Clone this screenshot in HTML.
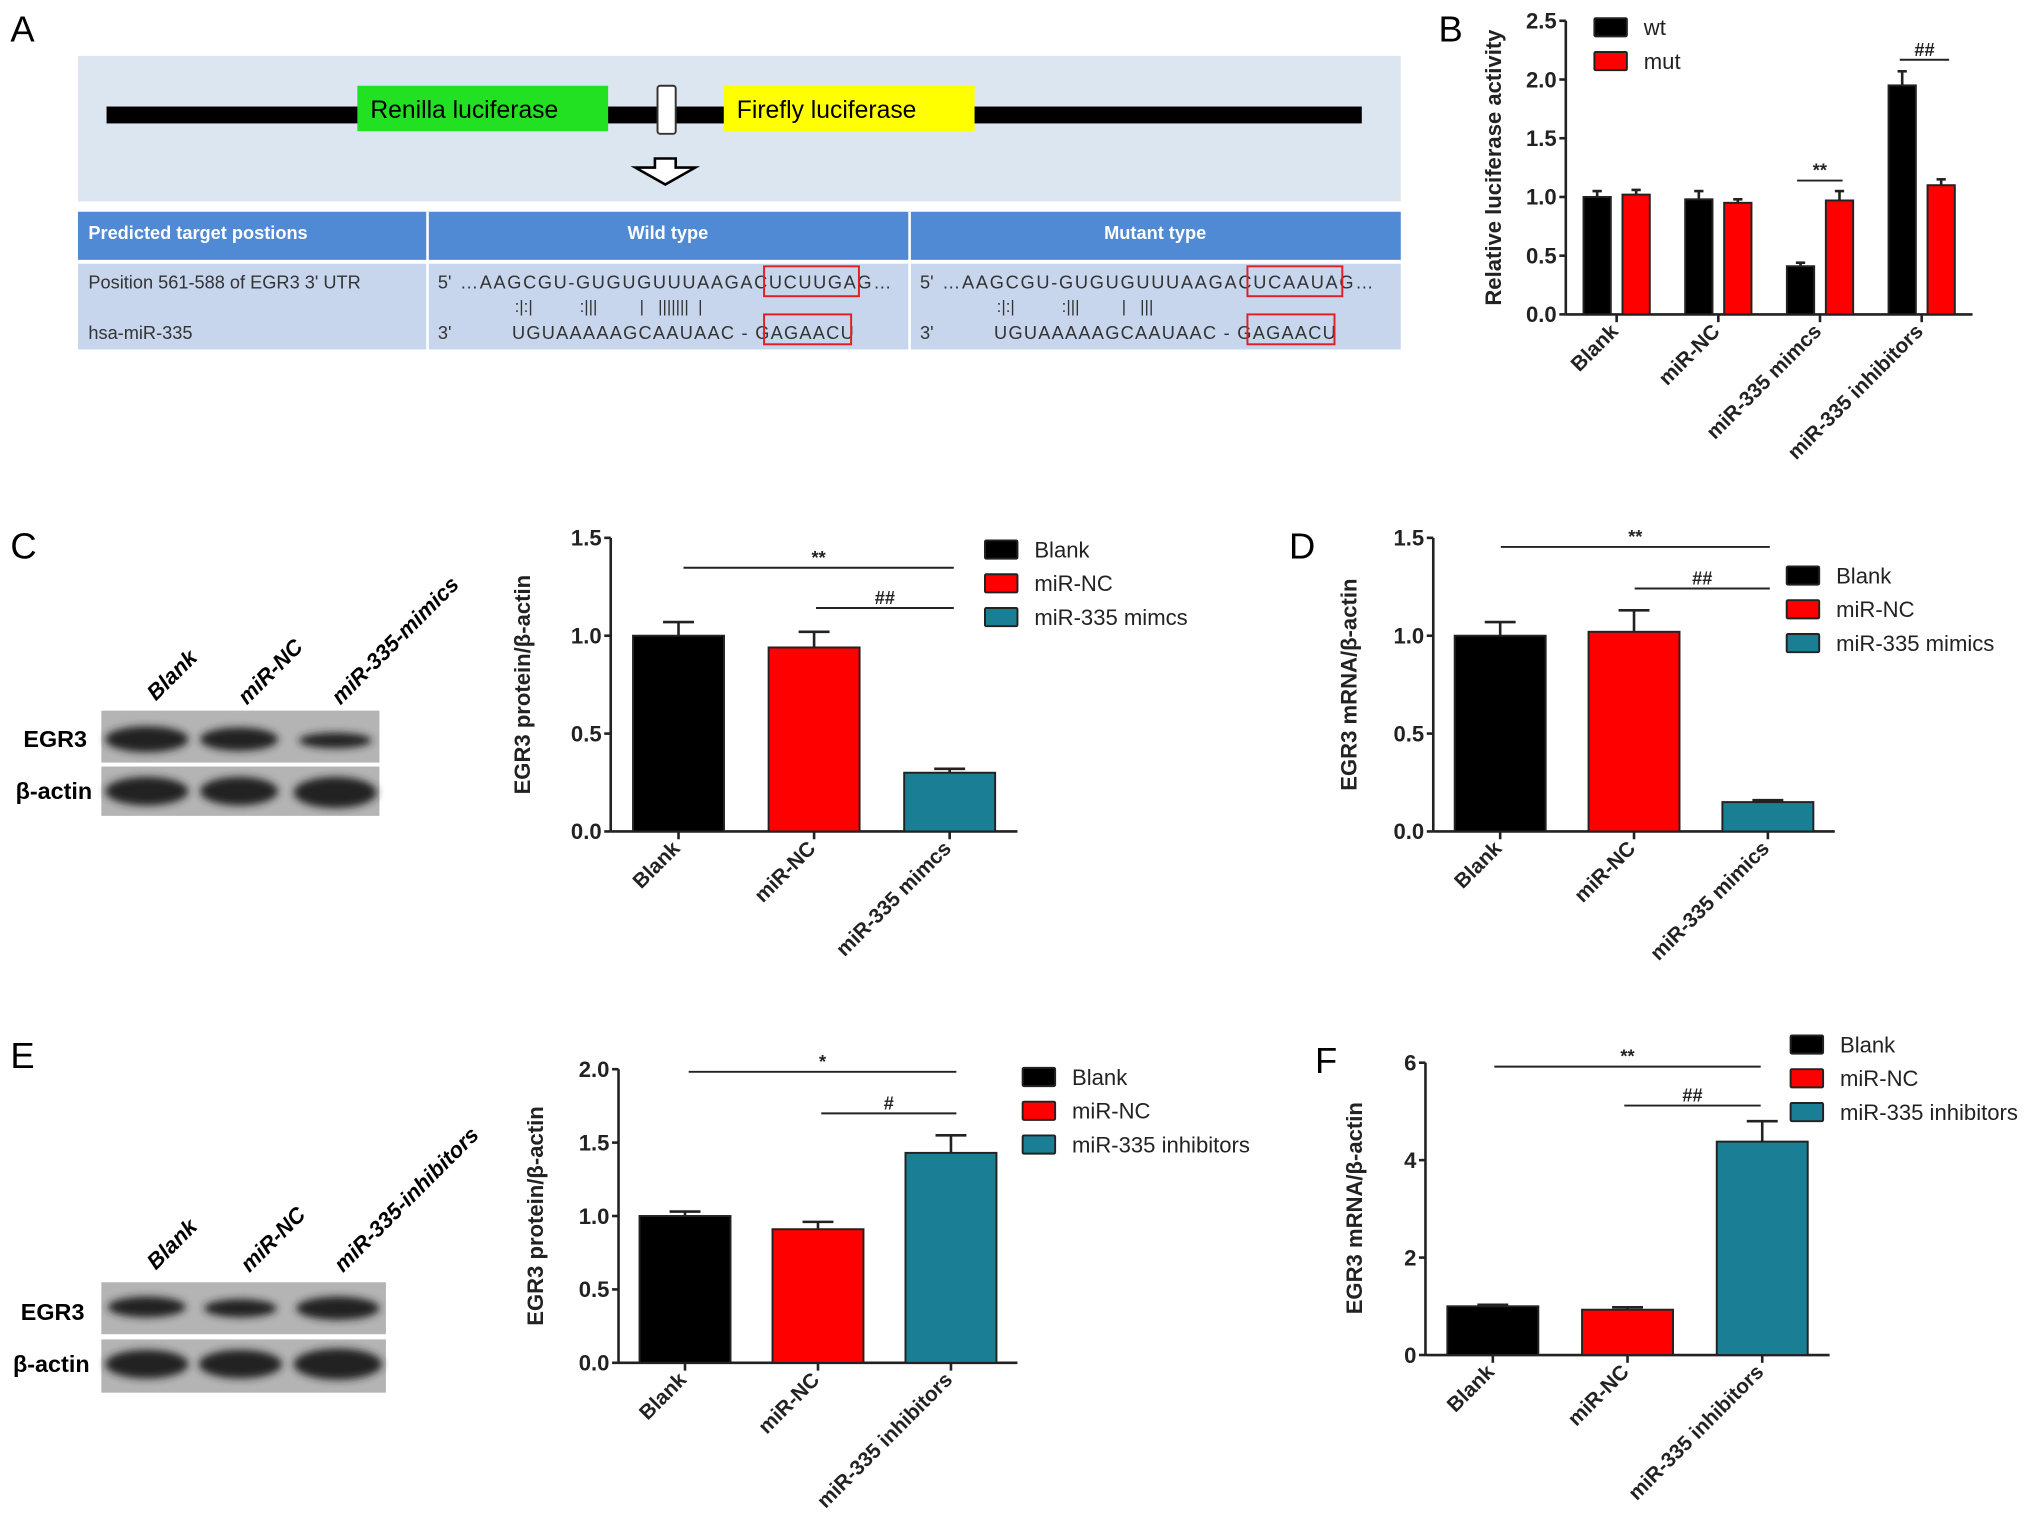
<!DOCTYPE html>
<html><head><meta charset="utf-8"><style>
html,body{margin:0;padding:0;background:#fff;}
svg{display:block;font-family:"Liberation Sans",Arial,sans-serif;}
.pre{white-space:pre;}
</style></head><body>
<svg id="fig" width="2031" height="1533" viewBox="0 0 1563 1180" preserveAspectRatio="none" xmlns="http://www.w3.org/2000/svg">
<g>
<text x="8" y="32" font-size="28">A</text>
<rect x="60" y="43" width="1018" height="112" fill="#dce6f1"/>
<rect x="82" y="82" width="966" height="13" fill="#000"/>
<rect x="275" y="66" width="193" height="35" fill="#22e022"/>
<text x="285" y="91" font-size="19">Renilla luciferase</text>
<rect x="557" y="66" width="193" height="35" fill="#ffff00"/>
<text x="567" y="91" font-size="19">Firefly luciferase</text>
<rect x="506" y="66" width="14" height="37" fill="#fff" stroke="#333" stroke-width="1.5" rx="2"/>
<path d="M504,122 L520,122 L520,129 L535,129 L512,142 L489,129 L504,129 Z" fill="#fff" stroke="#000" stroke-width="2"/>
<rect x="60" y="163" width="1018" height="37" fill="#5089d4"/>
<rect x="60" y="203" width="1018" height="66" fill="#c7d6ec"/>
<line x1="329" y1="163" x2="329" y2="269" stroke="#fff" stroke-width="2"/>
<line x1="700" y1="163" x2="700" y2="269" stroke="#fff" stroke-width="2"/>
<text x="68" y="184" font-size="14" font-weight="bold" fill="#fff">Predicted target postions</text>
<text x="514" y="184" font-size="14" font-weight="bold" fill="#fff" text-anchor="middle">Wild type</text>
<text x="889" y="184" font-size="14" font-weight="bold" fill="#fff" text-anchor="middle">Mutant type</text>
<g font-size="14" fill="#333">
<text x="68" y="222">Position 561-588 of EGR3 3' UTR</text>
<text x="68" y="261">hsa-miR-335</text>
<text x="337" y="222">5'</text>
<text x="354" y="222" textLength="332">…AAGCGU-GUGUGUUUAAGACUCUUGAG…</text>
<text x="337" y="261">3'</text>
<text x="394" y="261" textLength="263">UGUAAAAAGCAAUAAC - GAGAACU</text>
<text x="396" y="240" font-size="13" class="pre">:|:|          :|||         |   |||||||  |</text>
<text x="708" y="222">5'</text>
<text x="725" y="222" textLength="332">…AAGCGU-GUGUGUUUAAGACUCAAUAG…</text>
<text x="708" y="261">3'</text>
<text x="765" y="261" textLength="263">UGUAAAAAGCAAUAAC - GAGAACU</text>
<text x="767" y="240" font-size="13" class="pre">:|:|          :|||         |   |||</text>
</g>
<rect x="588" y="205" width="73" height="23" fill="none" stroke="#e02020" stroke-width="1.5"/>
<rect x="588" y="242" width="67" height="23" fill="none" stroke="#e02020" stroke-width="1.5"/>
<rect x="960" y="205" width="73" height="23" fill="none" stroke="#e02020" stroke-width="1.5"/>
<rect x="960" y="242" width="67" height="23" fill="none" stroke="#e02020" stroke-width="1.5"/>
</g>
<text x="1107" y="32" font-size="28">B</text>
<text x="8" y="430" font-size="28">C</text>
<text x="992" y="430" font-size="28">D</text>
<text x="8" y="822" font-size="28">E</text>
<text x="1012" y="826" font-size="28">F</text>
<defs>
<filter id="blur"><feGaussianBlur stdDeviation="3"/></filter>
</defs>
<g>
<rect x="78" y="547" width="214" height="40" fill="#b4b4b4"/>
<rect x="78" y="590" width="214" height="38" fill="#b4b4b4"/>
<g filter="url(#blur)" fill="#222">
<ellipse cx="113" cy="569" rx="32" ry="10"/><ellipse cx="184" cy="569" rx="30" ry="9"/><ellipse cx="258" cy="570" rx="28" ry="6"/>
<ellipse cx="113" cy="609" rx="32" ry="11"/><ellipse cx="184" cy="609" rx="30" ry="11"/><ellipse cx="258" cy="610" rx="32" ry="12"/>
</g>
<text x="18" y="575" font-size="18" font-weight="bold">EGR3</text>
<text x="12" y="615" font-size="18" font-weight="bold">β-actin</text>
<text transform="translate(120,540) rotate(-45)" font-size="17" font-weight="bold" font-style="italic">Blank</text>
<text transform="translate(190,543) rotate(-45)" font-size="17" font-weight="bold" font-style="italic">miR-NC</text>
<text transform="translate(262,543) rotate(-45)" font-size="17" font-weight="bold" font-style="italic">miR-335-mimics</text>
</g>
<g>
<rect x="78" y="987" width="219" height="40" fill="#b4b4b4"/>
<rect x="78" y="1031" width="219" height="41" fill="#b4b4b4"/>
<g filter="url(#blur)" fill="#222">
<ellipse cx="113" cy="1006" rx="30" ry="8"/><ellipse cx="185" cy="1007" rx="28" ry="7"/><ellipse cx="260" cy="1007" rx="32" ry="9"/>
<ellipse cx="113" cy="1050" rx="32" ry="11"/><ellipse cx="185" cy="1050" rx="32" ry="11"/><ellipse cx="260" cy="1050" rx="34" ry="12"/>
</g>
<text x="16" y="1016" font-size="18" font-weight="bold">EGR3</text>
<text x="10" y="1056" font-size="18" font-weight="bold">β-actin</text>
<text transform="translate(120,978) rotate(-45)" font-size="17" font-weight="bold" font-style="italic">Blank</text>
<text transform="translate(192,980) rotate(-45)" font-size="17" font-weight="bold" font-style="italic">miR-NC</text>
<text transform="translate(264,980) rotate(-45)" font-size="17" font-weight="bold" font-style="italic">miR-335-inhibitors</text>
</g>
<g id="charts"></g>
</svg>
<script>
// Panel B data
const bCats = ["Blank", "miR-NC", "miR-335 mimcs", "miR-335 inhibitors"];
const bWt = [1.0, 0.98, 0.41, 1.95];
const bWtErr = [0.05, 0.07, 0.03, 0.12];
const bMut = [1.02, 0.95, 0.97, 1.10];
const bMutErr = [0.04, 0.03, 0.08, 0.05];
const bTicks = ["0.0", "0.5", "1.0", "1.5", "2.0", "2.5"];
// Panel C data
const cCats = ["Blank", "miR-NC", "miR-335 mimcs"];
const cVals = [1.0, 0.94, 0.30];
const cErr = [0.07, 0.08, 0.02];
const cTicks = ["0.0", "0.5", "1.0", "1.5"];
// Panel D data
const dCats = ["Blank", "miR-NC", "miR-335 mimics"];
const dVals = [1.0, 1.02, 0.15];
const dErr = [0.07, 0.11, 0.01];
const dTicks = ["0.0", "0.5", "1.0", "1.5"];
// Panel E data
const eCats = ["Blank", "miR-NC", "miR-335 inhibitors"];
const eVals = [1.0, 0.91, 1.43];
const eErr = [0.03, 0.05, 0.12];
const eTicks = ["0.0", "0.5", "1.0", "1.5", "2.0"];
// Panel F data
const fCats = ["Blank", "miR-NC", "miR-335 inhibitors"];
const fVals = [1.0, 0.93, 4.38];
const fErr = [0.03, 0.05, 0.42];
const fTicks = ["0", "2", "4", "6"];

const NS = "http://www.w3.org/2000/svg";
const root = document.getElementById('charts');
function mk(tag, attrs, parent, text) {
  const e = document.createElementNS(NS, tag);
  for (const k in attrs) e.setAttribute(k, attrs[k]);
  if (text !== undefined) e.textContent = text;
  (parent || root).appendChild(e);
  return e;
}
const COLORS = ["#000000", "#ff0000", "#1a7f94"];

function chart(cfg) {
  const g = mk('g', {});
  
  
  const y = v => cfg.y0 - (v / cfg.max) * (cfg.y0 - cfg.yTop);
  const ya = mk('line', {x1: cfg.ax, y1: cfg.yTop, x2: cfg.ax, y2: cfg.y0, stroke: '#222', 'stroke-width': 2}, g);
  
  
  const xa = mk('line', {x1: cfg.ax, y1: cfg.y0, x2: cfg.axEnd, y2: cfg.y0, stroke: '#222', 'stroke-width': 2}, g);
  
  
  cfg.ticks.forEach(t => {
    const v = parseFloat(t), yy = y(v);
    mk('line', {x1: cfg.ax - 5, y1: yy, x2: cfg.ax, y2: yy, stroke: '#222', 'stroke-width': 2}, g);
    const tl = mk('text', {x: cfg.ax - 7, y: yy + 6, 'font-size': 17, 'font-weight': 'bold', 'text-anchor': 'end', fill: '#222'}, g, t);
    
    
  });
  const yl = mk('text', {transform: `translate(${cfg.ylx},${cfg.yly}) rotate(-90)`, 'font-size': 17, 'font-weight': 'bold', 'text-anchor': 'middle', fill: '#222'}, g, cfg.ylabel);
  
  
  const n = cfg.cats.length;
  const slot = (cfg.axEnd - cfg.ax) / n;
  cfg.cats.forEach((c, i) => {
    const cx = cfg.ax + slot * (i + 0.5);
    mk('line', {x1: cx, y1: cfg.y0, x2: cx, y2: cfg.y0 + 6, stroke: '#222', 'stroke-width': 2}, g);
    const xl = mk('text', {transform: `translate(${cx + 2},${cfg.y0 + 14}) rotate(-45)`, 'font-size': 16, 'font-weight': 'bold', 'text-anchor': 'end', fill: '#222'}, g, c);
    
    
    cfg.series.forEach((s, j) => {
      const ns = cfg.series.length;
      let bx;
      if (ns === 1) bx = cx - cfg.bw / 2;
      else bx = cx - cfg.bw - cfg.gap / 2 + j * (cfg.bw + cfg.gap);
      const col = ns === 1 ? COLORS[i] : COLORS[j];
      const v = s.vals[i], e = s.err[i];
      const eb = mk('line', {x1: bx + cfg.bw / 2, y1: y(v), x2: bx + cfg.bw / 2, y2: y(v + e), stroke: '#222', 'stroke-width': 2}, g);
      
      
      mk('line', {x1: bx + cfg.bw / 2 - cfg.bw * 0.17, y1: y(v + e), x2: bx + cfg.bw / 2 + cfg.bw * 0.17, y2: y(v + e), stroke: '#222', 'stroke-width': 2}, g);
      const r = mk('rect', {x: bx, y: y(v), width: cfg.bw, height: cfg.y0 - y(v), fill: col, stroke: '#222', 'stroke-width': 1.5}, g);
      
      
    });
  });
  cfg.sig.forEach(s => {
    mk('line', {x1: s[0], y1: s[2], x2: s[1], y2: s[2], stroke: '#222', 'stroke-width': 1.5}, g);
    const st = mk('text', {x: (s[0] + s[1]) / 2, y: s[2] - 3, 'font-size': 14, 'font-weight': 'bold', 'text-anchor': 'middle', fill: '#222'}, g, s[3]);
    
    
  });
  cfg.legend.forEach((l, i) => {
    const ly = cfg.ly + i * cfg.lstep;
    const lr = mk('rect', {x: cfg.lx, y: ly, width: 25, height: 14, fill: COLORS[i], stroke: '#222', 'stroke-width': 1.5, rx: 1}, g);
    
    
    const lt = mk('text', {x: cfg.lx + 38, y: ly + 13, 'font-size': 17, fill: '#222'}, g, l);
    
    
  });
}

chart({name: 'chart-b', ax: 1205, axEnd: 1518, y0: 242, yTop: 16, max: 2.5, ticks: bTicks, cats: bCats, bw: 21, gap: 9,
  series: [{key: 'wt', vals: bWt, err: bWtErr}, {key: 'mut', vals: bMut, err: bMutErr}],
  ylabel: 'Relative luciferase activity', ylx: 1155, yly: 129,
  sig: [[1383, 1418, 139, '**'], [1462, 1500, 46, '##']],
  legend: ['wt', 'mut'], lx: 1227, ly: 14, lstep: 26});
chart({name: 'chart-c', ax: 470, axEnd: 783, y0: 640, yTop: 414, max: 1.5, ticks: cTicks, cats: cCats, bw: 70, gap: 0,
  series: [{key: 's', vals: cVals, err: cErr}],
  ylabel: 'EGR3 protein/β-actin', ylx: 408, yly: 527,
  sig: [[526, 734, 437, '**'], [628, 734, 468, '##']],
  legend: ['Blank', 'miR-NC', 'miR-335 mimcs'], lx: 758, ly: 416, lstep: 26});
chart({name: 'chart-d', ax: 1103, axEnd: 1412, y0: 640, yTop: 414, max: 1.5, ticks: dTicks, cats: dCats, bw: 70, gap: 0,
  series: [{key: 's', vals: dVals, err: dErr}],
  ylabel: 'EGR3 mRNA/β-actin', ylx: 1044, yly: 527,
  sig: [[1155, 1362, 421, '**'], [1258, 1362, 453, '##']],
  legend: ['Blank', 'miR-NC', 'miR-335 mimics'], lx: 1375, ly: 436, lstep: 26});
chart({name: 'chart-e', ax: 476, axEnd: 783, y0: 1049, yTop: 823, max: 2.0, ticks: eTicks, cats: eCats, bw: 70, gap: 0,
  series: [{key: 's', vals: eVals, err: eErr}],
  ylabel: 'EGR3 protein/β-actin', ylx: 418, yly: 936,
  sig: [[530, 736, 825, '*'], [632, 736, 857, '#']],
  legend: ['Blank', 'miR-NC', 'miR-335 inhibitors'], lx: 787, ly: 822, lstep: 26});
chart({name: 'chart-f', ax: 1097, axEnd: 1408, y0: 1043, yTop: 818, max: 6, ticks: fTicks, cats: fCats, bw: 70, gap: 0,
  series: [{key: 's', vals: fVals, err: fErr}],
  ylabel: 'EGR3 mRNA/β-actin', ylx: 1048, yly: 930,
  sig: [[1150, 1355, 821, '**'], [1250, 1355, 851, '##']],
  legend: ['Blank', 'miR-NC', 'miR-335 inhibitors'], lx: 1378, ly: 797, lstep: 26});
</script>
</body></html>
